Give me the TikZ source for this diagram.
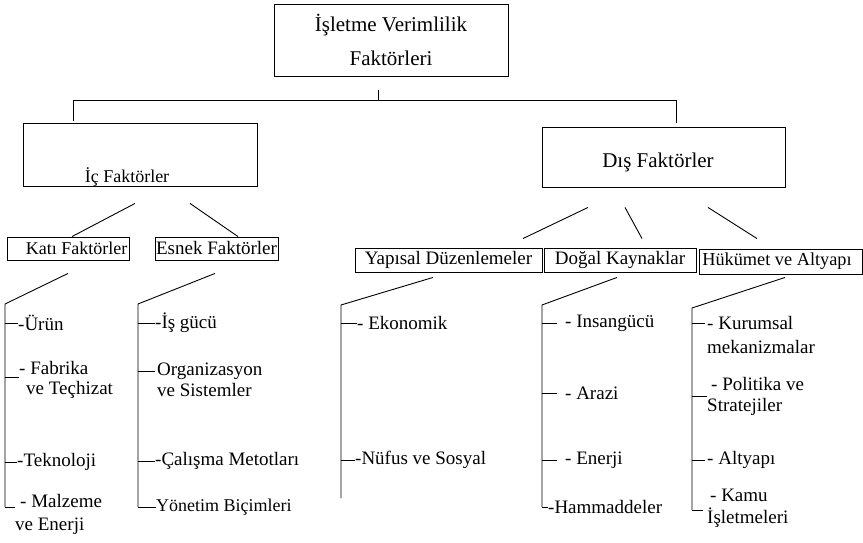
\documentclass[tikz,border=0pt]{standalone}
\usepackage{fontspec}
\setmainfont{Liberation Serif}
\tikzset{
  ln/.style={line width=0.9pt},
  box/.style={draw, line width=0.9pt, inner sep=0pt},
  lbl/.style={inner sep=0pt, font=\fontsize{18}{22}\selectfont},
  lblb/.style={inner sep=0pt, font=\fontsize{19}{22}\selectfont},
  item/.style={anchor=west, inner sep=0pt, align=left, font=\fontsize{19}{22}\selectfont},
}
\begin{document}
\begin{tikzpicture}[x=1pt,y=-1pt]
\useasboundingbox (0,0) rectangle (863,543);

% top
\node[box, minimum width=234pt, minimum height=72pt, align=center,
      font=\fontsize{21}{34}\selectfont] (top) at (391,40) {İşletme Verimlilik\\Faktörleri};

% first level
\node[box, minimum width=234pt, minimum height=63pt] (ic) at (140,154.5) {};
\node[lbl] (icT) at (127,177) {İç Faktörler};
\node[box, minimum width=243pt, minimum height=60pt] (dis) at (663.5,157) {};
\node[lbl, font=\fontsize{21}{24}\selectfont] (disT) at (658,162) {Dış Faktörler};

% second level
\node[box, minimum width=122pt, minimum height=23pt] (kati) at (68,248.5) {};
\node[lbl] (katiT) at (76.5,248.5) {Katı Faktörler};
\node[box, lblb, draw, minimum width=123pt, minimum height=23pt] (esnek) at (216.5,248.5) {Esnek Faktörler};
\node[box, lblb, draw, minimum width=187pt, minimum height=24pt] (yap) at (448.5,260) {Yapısal Düzenlemeler};
\node[box, lblb, draw, minimum width=152pt, minimum height=24pt] (dog) at (620,260) {Doğal Kaynaklar};
\node[box, minimum width=163pt, minimum height=25pt] (huk) at (780.5,261.5) {};
\node[lbl, font=\fontsize{18.3}{22}\selectfont] (hukT) at (777,261) {Hükümet ve Altyapı};

% connectors top
\draw[ln] ([xshift=-13pt,yshift=-14pt]top.south) -- ([xshift=-13pt,yshift=-24pt]top.south);
\draw[ln] ([xshift=-67pt,yshift=2pt]ic.north) |- ([xshift=-13pt,yshift=-24pt]top.south)
          -| ([xshift=12.5pt,yshift=4pt]dis.north);

\draw[ln] ([xshift=-5pt,yshift=-17pt]ic.south) -- ([xshift=4pt]kati.north);
\draw[ln] ([xshift=50pt,yshift=-17pt]ic.south) -- ([xshift=21.5pt]esnek.north);
\draw[ln] ([xshift=-75.5pt,yshift=-20pt]dis.south) -- ([xshift=74.5pt,yshift=9pt]yap.north);
\draw[ln] ([xshift=-38.5pt,yshift=-20pt]dis.south) -- ([xshift=22pt,yshift=9pt]dog.north);
\draw[ln] ([xshift=44.5pt,yshift=-20pt]dis.south) -- ([xshift=-23.5pt,yshift=10pt]huk.north);

% bracket coordinates
\coordinate (kv1) at (5,304);   \coordinate (kv2) at (5,507);
\coordinate (ev1) at (138,304); \coordinate (ev2) at (138,507);
\coordinate (yv1) at (341,305); \coordinate (yv2) at (341,498);
\coordinate (dv1) at (542,305); \coordinate (dv2) at (542,507);
\coordinate (hv1) at (692,308); \coordinate (hv2) at (692,510);

\draw[ln] ([yshift=-13pt]kati.south) -- (kv1) -- (kv2);
\draw[ln] ([xshift=-1.5pt,yshift=-13pt]esnek.south) -- (ev1) -- (ev2);
\draw[ln] ([xshift=-15.5pt,yshift=-5pt]yap.south) -- (yv1) -- (yv2);
\draw[ln] ([xshift=-3pt,yshift=-5pt]dog.south) -- (dv1) -- (dv2);
\draw[ln] ([xshift=4.5pt,yshift=-3pt]huk.south) -- (hv1) -- (hv2);

% Katı items
\node[item] (k1) at (18,323) {-Ürün};
\node[item, font=\fontsize{19}{20}\selectfont] (k2) at (19,380) {- Fabrika\\\hspace*{7pt}ve Teçhizat};
\node[item] (k3) at (17,462) {-Teknoloji};
\node[item, font=\fontsize{19}{23}\selectfont] (k4) at (15,514.5) {\hspace*{5pt}- Malzeme\\ve Enerji};
\coordinate (k2t) at ([yshift=3pt]k2.west);
\coordinate (k4t) at ([yshift=7.5pt]k4.west);
\draw[ln] (k1.west -| kv1) -- (k1.west);
\draw[ln] (k2t -| kv1) -- (k2t);
\draw[ln] (k3.west -| kv1) -- (k3.west);
\draw[ln] (k4t -| kv1) -- (k4t);

% Esnek items
\node[item] (e1) at (155,323) {-İş gücü};
\node[item, font=\fontsize{19}{21}\selectfont] (e2) at (157,380) {Organizasyon\\ve Sistemler};
\node[item] (e3) at (155,461) {-Çalışma Metotları};
\node[item, font=\fontsize{18}{22}\selectfont] (e4) at (156,507) {Yönetim Biçimleri};
\coordinate (e2t) at ([yshift=9pt]e2.west);
\draw[ln] (e1.west -| ev1) -- (e1.west);
\draw[ln, shorten >=2pt] (e2t -| ev1) -- (e2t);
\draw[ln] (e3.west -| ev1) -- (e3.west);
\draw[ln] (e4.west -| ev1) -- (e4.west);

% Yapısal items
\node[item] (y1) at (357,323) {- Ekonomik};
\node[item] (y2) at (355,460) {-Nüfus ve Sosyal};
\draw[ln] (y1.west -| yv1) -- (y1.west);
\draw[ln] (y2.west -| yv1) -- (y2.west);

% Doğal items
\node[item] (d1) at (565,323) {- Insangücü};
\node[item] (d2) at (565,393) {- Arazi};
\node[item] (d3) at (565,460) {- Enerji};
\node[item] (d4) at (548,507) {-Hammaddeler};
\draw[ln, shorten >=8pt] (d1.west -| dv1) -- (d1.west);
\draw[ln, shorten >=8pt] (d2.west -| dv1) -- (d2.west);
\draw[ln, shorten >=8pt] (d3.west -| dv1) -- (d3.west);
\draw[ln] (d4.west -| dv1) -- (d4.west);

% Hükümet items
\node[item, font=\fontsize{19}{24}\selectfont] (h1) at (707,335) {- Kurumsal\\mekanizmalar};
\node[item, font=\fontsize{19}{21}\selectfont] (h2) at (707,396.5) {\hspace*{4pt}- Politika ve\\Stratejiler};
\node[item] (h3) at (707,460) {- Altyapı};
\node[item, font=\fontsize{19}{22}\selectfont] (h4) at (707,508) {\hspace*{3pt}- Kamu\\İşletmeleri};
\coordinate (h1t) at ([yshift=12pt]h1.west);
\coordinate (h4t) at ([yshift=-2pt]h4.west);
\draw[ln, shorten >=2pt] (h1t -| hv1) -- (h1t);
\draw[ln] (h2.west -| hv1) -- (h2.west);
\draw[ln, shorten >=2pt] (h3.west -| hv1) -- (h3.west);
\draw[ln, shorten >=4pt] (h4t -| hv1) -- (h4t);
\end{tikzpicture}
\end{document}
